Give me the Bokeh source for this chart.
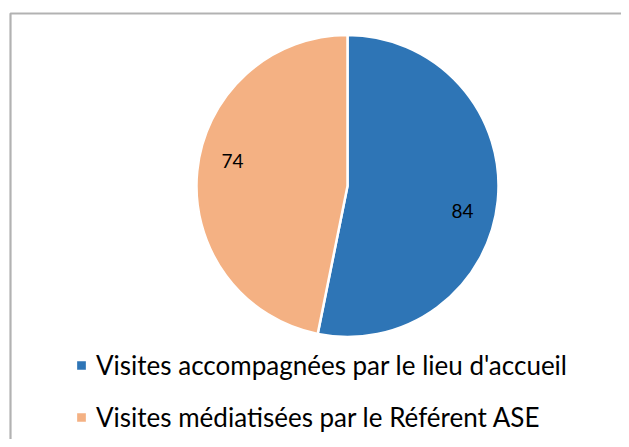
import math
from bokeh.plotting import figure
from bokeh.models import ColumnDataSource, Range1d, BoxAnnotation, Legend, LegendItem
from bokeh.core.properties import value
from bokeh.embed import file_html
from bokeh.resources import INLINE

# ---- data ----
categories = ["Visites accompagnées par le lieu d'accueil",
              "Visites médiatisées par le Référent ASE"]
counts = [84, 74]
colors = ["#2E75B6", "#F4B183"]

# ---- layout / style ----
W, H = 621, 439
CX, CY = 347, H - 185.5          # pie centre in data units (1 unit = 1 px)
R = 151
LABEL_R = 117.7
LABEL_SHIFT = math.radians(-6.5)
FONT = "Lato"

total = sum(counts)
starts, ends, lx, ly = [], [], [], []
cum = 0.0
for c in counts:
    a0 = math.pi / 2 - 2 * math.pi * cum / total
    cum += c
    a1 = math.pi / 2 - 2 * math.pi * cum / total
    starts.append(a0)
    ends.append(a1)
    mid = (a0 + a1) / 2 + LABEL_SHIFT
    lx.append(CX + LABEL_R * math.cos(mid))
    ly.append(CY + LABEL_R * math.sin(mid))

src = ColumnDataSource(dict(cat=categories, n=counts, color=colors,
                            start=starts, end=ends,
                            lx=lx, ly=ly, txt=[str(c) for c in counts]))

p = figure(width=W, height=H, output_backend="svg", toolbar_location=None,
           x_range=Range1d(0, W), y_range=Range1d(0, H), min_border=0)
p.axis.visible = False
p.grid.visible = False
p.outline_line_color = None
p.background_fill_color = "white"
p.border_fill_color = "white"

# chart border (right and bottom edges fall outside the picture)
p.add_layout(BoxAnnotation(left=10, right=W + 40, top=H - 13, bottom=-40,
                           fill_color=None, line_color="black", line_width=2.2))

w = p.wedge(x=CX, y=CY, radius=R, radius_units="screen",
            start_angle="start", end_angle="end", direction="clock",
            fill_color="color", line_color="white", line_width=2.5, source=src)

p.text(x="lx", y="ly", text="txt", source=src, text_align="center",
       text_baseline="middle", text_font=value(FONT), text_font_size="19px",
       text_color="black")

items = [LegendItem(label=categories[i], renderers=[w], index=i) for i in range(len(categories))]
legend = Legend(items=items, location=(74, 6), orientation="vertical",
                glyph_width=14, glyph_height=14, label_standoff=8,
                label_text_font=FONT, label_text_font_size="26px",
                label_text_color="black", label_height=32, spacing=20,
                padding=0, margin=0, border_line_color=None,
                background_fill_alpha=0)
p.add_layout(legend, "center")

open("out.html", "w").write(file_html(p, INLINE))
